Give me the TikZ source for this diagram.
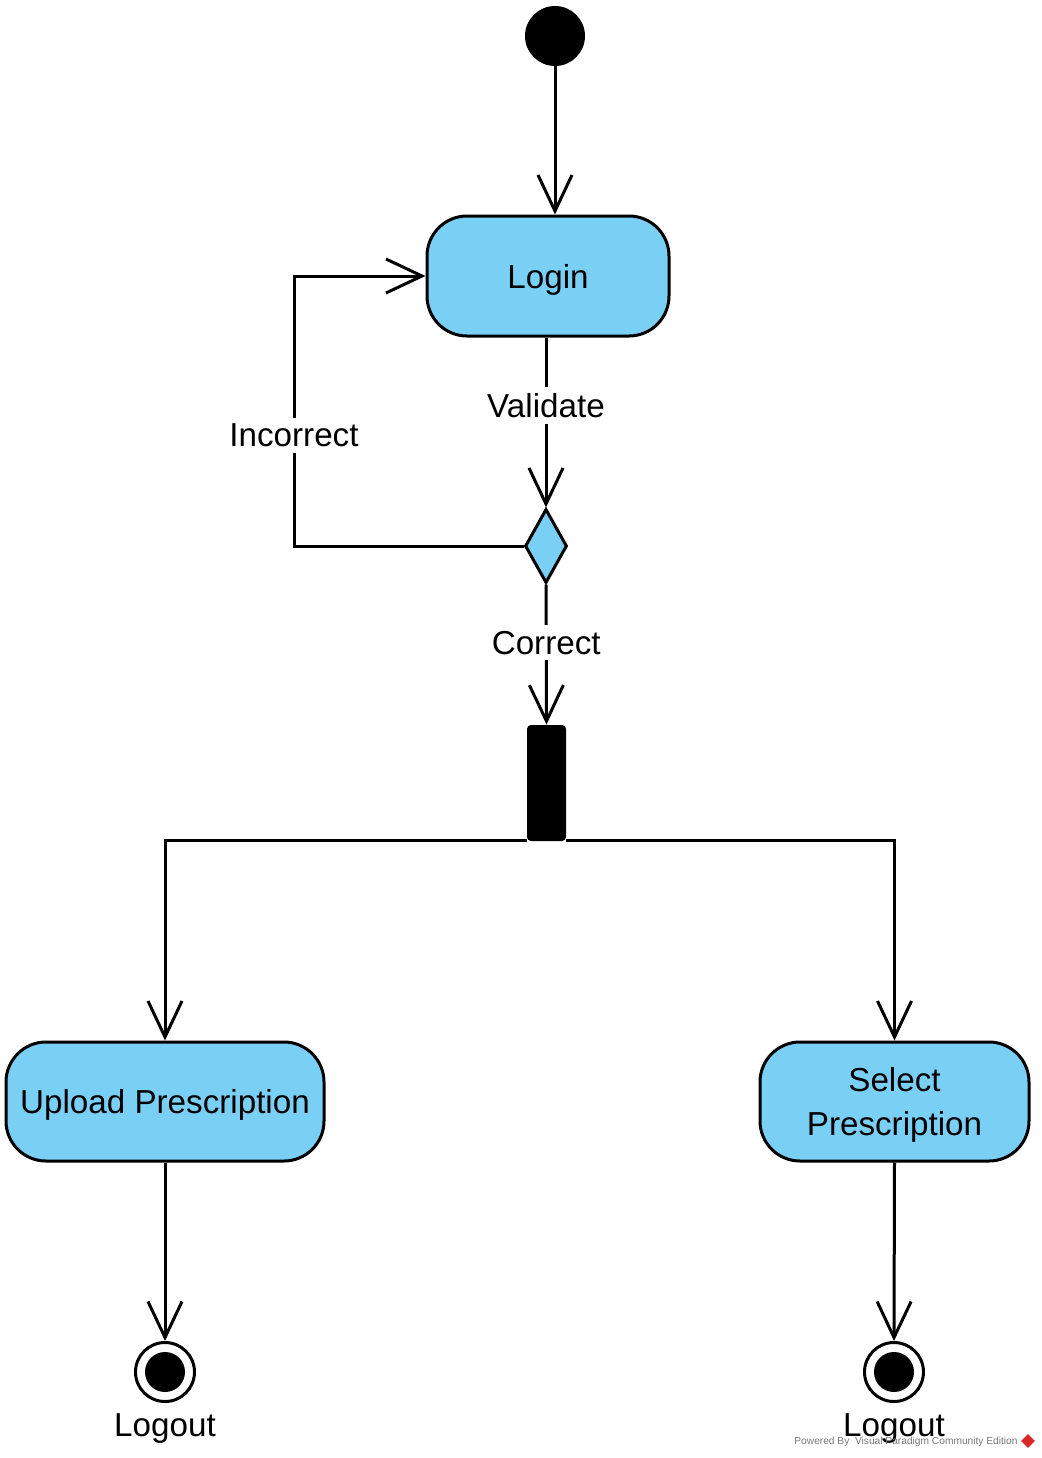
\documentclass[tikz,border=0pt]{standalone}
\usepackage{fontspec}
\setmainfont{Liberation Sans}
\usetikzlibrary{arrows.meta,shapes.geometric}
\definecolor{act}{RGB}{122,207,245}
\definecolor{wmgray}{RGB}{120,120,120}
\definecolor{vpred}{RGB}{215,40,40}
\begin{document}
\begin{tikzpicture}[x=0.5pt,y=-0.5pt,
  every node/.style={font=\fontsize{16.6}{19}\selectfont},
  activity/.style={draw, line width=1.5pt, fill=act, rounded corners=20pt, inner sep=0pt, align=center, text depth=0pt},
  arr/.style={line width=1.5pt, -{Straight Barb[length=18pt,width=17pt,line width=1.5pt]}},
  lbl/.style={fill=white, inner sep=3pt},
  endouter/.style={circle, draw, line width=1.5pt, fill=white, minimum size=29.5pt, inner sep=0pt},
  enddot/.style={circle, fill=black, minimum size=20pt, inner sep=0pt}
]
\useasboundingbox (0,0) rectangle (1041,1458);
\node[circle, fill=black, minimum size=30pt, inner sep=0pt] (start) at (555,36) {};
\node[activity, minimum width=121pt, minimum height=60pt] (login) at (548,276) {Login};
\node[diamond, draw, fill=act, line width=1.5pt, minimum width=21pt, minimum height=37pt, inner sep=0pt] (dec) at (546,546) {};
\node[fill=black, rounded corners=2pt, minimum width=19.5pt, minimum height=58pt, inner sep=0pt] (fork) at (546.5,783) {};
\node[activity, minimum width=159pt, minimum height=59.5pt] (upload) at (165,1101.5) {Upload Prescription};
\node[activity, minimum width=134.5pt, minimum height=59.5pt, font=\fontsize{16.6}{22}\selectfont] (select) at (894.5,1101.5) {Select\\Prescription};
\node[endouter] (end1) at (165,1372) {};
\node[enddot] (dot1) at (end1) {};
\node[endouter] (end2) at (894,1372) {};
\node[enddot] (dot2) at (end2) {};
\node[text depth=0pt] (lo1) at (165,1425) {Logout};
\node[text depth=0pt] (lo2) at (894,1425) {Logout};
\coordinate (c) at (294,546);

\draw[arr] (start) -- (start |- login.north);
\draw[arr] (login.south -| dec) -- node[lbl,pos=0.4]{Validate} (dec.north);
\draw[arr] (dec.south) -- node[lbl,pos=0.415]{Correct} (fork.north);
\draw[arr] (dec.west) -- (c) |- node[lbl,pos=0.205]{Incorrect} (login.west);
\draw[arr] ([yshift=0.5pt]fork.south west) -| (upload.north);
\draw[arr] ([yshift=0.5pt]fork.south east) -| (select.north);
\draw[arr] (upload.south) -- (end1.north);
\draw[arr] (select.south) -- (end2.north);

\node[font=\fontsize{5.1}{6}\selectfont, text=wmgray, inner sep=0pt] (wm) at (906,1442) {Powered By\ \ Visual Paradigm Community Edition};
\node[diamond, fill=vpred, minimum size=7pt, inner sep=0pt] (logo) at (1028,1441) {};
\end{tikzpicture}
\end{document}
